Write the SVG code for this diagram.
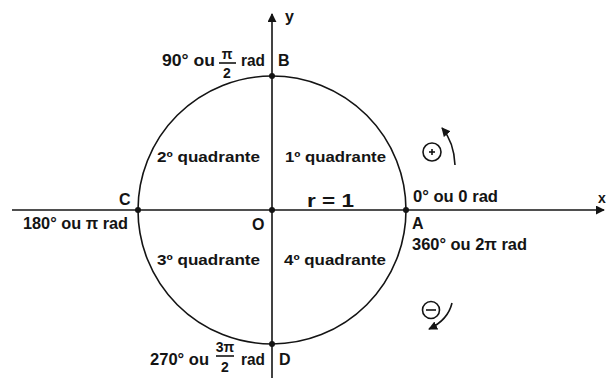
<svg xmlns="http://www.w3.org/2000/svg" width="606" height="378" viewBox="0 0 606 378">
<style>
text{font-family:"Liberation Sans",Arial,sans-serif;font-weight:bold;fill:#141414}
.t{font-size:16px}
.q{font-size:15px}
.s{font-size:14px}
.ln{stroke:#141414;stroke-width:1.6;fill:none}
.dot{fill:#141414}
</style>
<defs>
<marker id="ah" viewBox="0 0 10 10" refX="9" refY="5" markerWidth="9" markerHeight="9" markerUnits="userSpaceOnUse" orient="auto"><path d="M0,0 L10,5 L0,10 z" fill="#141414"/></marker>
</defs>
<rect width="606" height="378" fill="#fff"/>
<g id="connectors">
<line class="ln" x1="12" y1="210" x2="604" y2="210" marker-end="url(#ah)"/>
<line class="ln" x1="272" y1="378" x2="272" y2="14" marker-end="url(#ah)"/>
<circle class="ln" cx="272" cy="210" r="134"/>
<path class="ln" d="M455,165 Q454,142 442,128" marker-end="url(#ah)"/>
<path class="ln" d="M452,303 Q448,320 429,329" marker-end="url(#ah)"/>
</g>
<g id="axis-labels">
<text class="t" x="285" y="22">y</text>
<text x="598" y="203" font-size="14">x</text>
</g>
<g id="O"><circle class="dot" cx="272" cy="210" r="3"/><text class="t" x="252" y="230">O</text></g>
<g id="A"><circle class="dot" cx="406" cy="210" r="3"/><text class="t" x="412" y="229">A</text>
<text class="t" x="413" y="202" textLength="85" lengthAdjust="spacingAndGlyphs">0° ou 0 rad</text>
<text class="t" x="412" y="250" textLength="115" lengthAdjust="spacingAndGlyphs">360° ou 2π rad</text></g>
<g id="B"><circle class="dot" cx="272" cy="76" r="3"/><text class="t" x="278" y="66">B</text>
<text class="t" x="162" y="66" textLength="53" lengthAdjust="spacingAndGlyphs">90° ou</text>
<text class="s" x="227" y="59" text-anchor="middle">π</text>
<line class="ln" x1="219" y1="63" x2="236" y2="63" stroke-width="1.3"/>
<text class="s" x="227" y="78" text-anchor="middle">2</text>
<text class="t" x="241" y="66" textLength="24" lengthAdjust="spacingAndGlyphs">rad</text></g>
<g id="C"><circle class="dot" cx="138" cy="210" r="3"/><text class="t" x="119" y="205">C</text>
<text class="t" x="23" y="229" textLength="105" lengthAdjust="spacingAndGlyphs">180° ou π rad</text></g>
<g id="D"><circle class="dot" cx="272" cy="344" r="3"/><text class="t" x="279" y="365">D</text>
<text class="t" x="150" y="365" textLength="59" lengthAdjust="spacingAndGlyphs">270° ou</text>
<text class="s" x="225" y="352" text-anchor="middle">3π</text>
<line class="ln" x1="216" y1="356" x2="234" y2="356" stroke-width="1.3"/>
<text class="s" x="225" y="372" text-anchor="middle">2</text>
<text class="t" x="241" y="365" textLength="24" lengthAdjust="spacingAndGlyphs">rad</text></g>
<g id="q1"><text class="q" x="285" y="162" textLength="101" lengthAdjust="spacingAndGlyphs">1º quadrante</text></g>
<g id="q2"><text class="q" x="157" y="162" textLength="103" lengthAdjust="spacingAndGlyphs">2º quadrante</text></g>
<g id="q3"><text class="q" x="157" y="265" textLength="103" lengthAdjust="spacingAndGlyphs">3º quadrante</text></g>
<g id="q4"><text class="q" x="284" y="265" textLength="102" lengthAdjust="spacingAndGlyphs">4º quadrante</text></g>
<g id="radius"><text x="307" y="207" font-size="19" textLength="47" lengthAdjust="spacingAndGlyphs">r = 1</text></g>
<g id="plus"><circle class="ln" cx="432" cy="152" r="9"/><line class="ln" x1="429" y1="152" x2="435" y2="152" stroke-width="1.8"/><line class="ln" x1="432" y1="149" x2="432" y2="155" stroke-width="1.8"/></g>
<g id="minus"><circle class="ln" cx="431" cy="310" r="8.5"/><line class="ln" x1="426" y1="310" x2="436" y2="310" stroke-width="1.8"/></g>
</svg>
